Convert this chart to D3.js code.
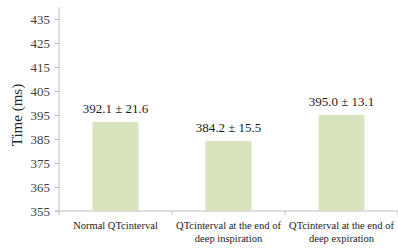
<!DOCTYPE html>
<html>
<head>
    <meta charset="utf-8">
    <style>
        body { margin: 0; background: #fff; }
        svg { display: block; }
        svg text { font-family: 'Liberation Serif', 'Times New Roman', serif !important; }
    </style>
</head>
<body>
    <svg width="398" height="248"></svg>

<script src="https://d3js.org/d3.v7.min.js"></script>
<script>
    // data
    let categories = ["Normal QTcinterval", "QTcinterval at the end of deep inspiration", "QTcinterval at the end of deep expiration"]
    let labelLines = [["Normal QTcinterval"], ["QTcinterval at the end of", "deep inspiration"], ["QTcinterval at the end of", "deep expiration"]]
    let means = [392.1, 384.2, 395.0]
    let sds = [21.6, 15.5, 13.1]
    let yTicks = [355, 365, 375, 385, 395, 405, 415, 425, 435]

    let svg = d3.select("svg")
    let margin = { top: 7, right: 0, bottom: 37, left: 59 }
    let width = 398
    let height = 248

    let x = d3.scaleBand()
        .domain(categories)
        .range([margin.left, width - margin.right])

    let y = d3.scaleLinear()
        .domain([355, 440])
        .range([height - margin.bottom, margin.top])

    let axisColor = "#bfbfbf"

    // y axis
    let yAxis = svg.append("g")
        .attr("transform", `translate(${margin.left},0)`)
        .call(d3.axisLeft(y).tickValues(yTicks).tickSize(4).tickPadding(5).tickFormat(d3.format("d")))
    yAxis.select(".domain").attr("stroke", axisColor).attr("d", `M0,${y(440)}V${y(355)}`)
    yAxis.selectAll(".tick line").attr("stroke", axisColor)
    yAxis.selectAll(".tick text")
        .attr("fill", "#404040")
        .style("font-size", "13px")

    // x axis line with ticks on category boundaries
    let x0 = x.range()[0], x1 = x.range()[1]
    let catW = x.step()
    let xg = svg.append("g")
    xg.append("line")
        .attr("x1", x0 - 4).attr("x2", x1)
        .attr("y1", y(355)).attr("y2", y(355))
        .attr("stroke", axisColor)
    xg.selectAll(".xt")
        .data(d3.range(categories.length + 1))
        .join("line")
        .attr("class", "xt")
        .attr("x1", i => x0 + i * catW).attr("x2", i => x0 + i * catW)
        .attr("y1", y(355)).attr("y2", y(355) + 4)
        .attr("stroke", axisColor)

    // bars
    let barW = 46
    let cx = i => x(categories[i]) + catW / 2
    svg.append("g")
        .selectAll("rect")
        .data(means)
        .join("rect")
        .attr("x", (d, i) => cx(i) - barW / 2)
        .attr("width", barW)
        .attr("y", d => y(d))
        .attr("height", d => y(355) - y(d))
        .attr("fill", "#d7e4bd")

    // value labels
    svg.append("g")
        .selectAll("text")
        .data(means)
        .join("text")
        .attr("x", (d, i) => cx(i))
        .attr("y", d => y(d) - 9)
        .attr("text-anchor", "middle")
        .attr("fill", "#1a1a1a")
        .style("font-size", "13px")
        .text((d, i) => d3.format(".1f")(d) + " \u00b1 " + d3.format(".1f")(sds[i]))

    // category labels
    let lab = svg.append("g")
        .selectAll("text")
        .data(labelLines)
        .join("text")
        .attr("x", (d, i) => cx(i))
        .attr("y", y(355) + 18)
        .attr("text-anchor", "middle")
        .attr("fill", "#1a1a1a")
        .style("font-size", "10.5px")
    lab.selectAll("tspan")
        .data(d => d)
        .join("tspan")
        .attr("x", function () { return d3.select(this.parentNode).attr("x") })
        .attr("dy", (d, i) => i === 0 ? 0 : 13)
        .text(d => d)

    // y title
    svg.append("text")
        .attr("transform", `translate(22,${y(395)}) rotate(-90)`)
        .attr("text-anchor", "middle")
        .attr("fill", "#262626")
        .style("font-size", "15px")
        .text("Time (ms)")
</script>
</body>
</html>
